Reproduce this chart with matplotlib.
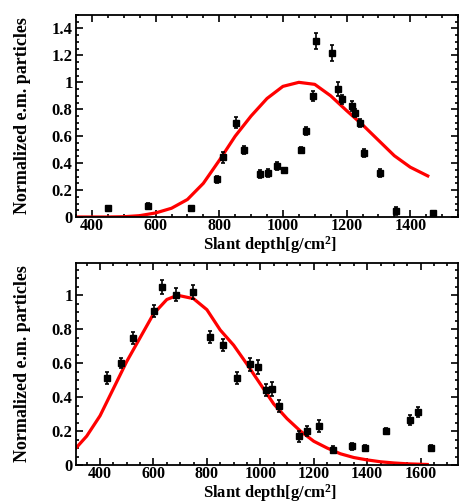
import matplotlib
matplotlib.use("Agg")
import matplotlib.pyplot as plt
from matplotlib.ticker import MultipleLocator, FuncFormatter

# ---- top panel data ----
top_x = [452, 577, 712, 792, 813, 853, 878, 928, 954, 980, 1002, 1058, 1074, 1095,
         1103, 1155, 1173, 1185, 1217, 1225, 1243, 1255, 1304, 1354, 1472]
top_y = [0.065, 0.084, 0.065, 0.28, 0.443, 0.70, 0.50, 0.32, 0.33, 0.38, 0.35, 0.50,
         0.64, 0.90, 1.307, 1.215, 0.95, 0.874, 0.824, 0.77, 0.696, 0.477, 0.33, 0.047, 0.027]
top_err = [0.0, 0.02, 0.0, 0.027, 0.04, 0.04, 0.03, 0.03, 0.03, 0.03, 0.0, 0.02,
           0.03, 0.035, 0.06, 0.06, 0.05, 0.035, 0.035, 0.03, 0.03, 0.03, 0.03, 0.03, 0.0]
top_curve_x = [350, 400, 450, 500, 550, 600, 650, 700, 750, 800, 850, 900, 950, 1000,
               1050, 1100, 1150, 1200, 1250, 1300, 1350, 1400, 1455]
top_curve_y = [0, 0, 0, 0.002, 0.01, 0.03, 0.065, 0.13, 0.25, 0.42, 0.60, 0.75, 0.88,
               0.97, 1.0, 0.985, 0.90, 0.79, 0.685, 0.57, 0.455, 0.37, 0.305]

# ---- bottom panel data ----
bot_x = [427, 477, 522, 602, 633, 683, 749, 811, 861, 913, 961, 992, 1023, 1042, 1070,
         1143, 1173, 1220, 1272, 1342, 1391, 1469, 1561, 1590, 1640]
bot_y = [0.511, 0.599, 0.75, 0.906, 1.049, 1.004, 1.02, 0.756, 0.707, 0.511, 0.593,
         0.579, 0.442, 0.448, 0.35, 0.168, 0.198, 0.231, 0.09, 0.11, 0.10, 0.20, 0.266,
         0.311, 0.10]
bot_err = [0.035, 0.03, 0.035, 0.035, 0.04, 0.04, 0.04, 0.035, 0.035, 0.035, 0.04, 0.04,
           0.035, 0.04, 0.035, 0.035, 0.03, 0.035, 0.02, 0.02, 0.02, 0.02, 0.03, 0.03, 0.02]
bot_curve_x = [310, 350, 400, 450, 500, 550, 600, 650, 690, 750, 800, 850, 900, 950, 1000,
               1050, 1100, 1150, 1200, 1250, 1300, 1350, 1400, 1450, 1500, 1550, 1625]
bot_curve_y = [0.10, 0.17, 0.29, 0.45, 0.61, 0.75, 0.89, 0.975, 1.0, 0.98, 0.915, 0.795,
               0.706, 0.594, 0.477, 0.36, 0.273, 0.20, 0.14, 0.10, 0.066, 0.044, 0.03,
               0.019, 0.012, 0.007, 0.003]

xlabel = "Slant depth[g/cm$^{2}$]"
ylabel = "Normalized e.m. particles"

plt.rcParams['font.family'] = ['Liberation Serif', 'DejaVu Serif']
plt.rcParams['font.weight'] = 'bold'
plt.rcParams['mathtext.fontset'] = 'custom'
plt.rcParams['mathtext.rm'] = 'Liberation Serif:bold'
plt.rcParams['mathtext.it'] = 'Liberation Serif:bold'

W, H = 459, 504
fig = plt.figure(figsize=(W / 100, H / 100), dpi=100)

def px_axes(l, t, r, b):
    return fig.add_axes([l / W, 1 - b / H, (r - l) / W, (b - t) / H])

fmt = FuncFormatter(lambda v, p: "%g" % round(v, 6))

def style(ax, xlim, ylim, axh, label_off):
    ax.set_xlim(*xlim)
    ax.set_ylim(*ylim)
    ax.xaxis.set_major_locator(MultipleLocator(200))
    ax.xaxis.set_minor_locator(MultipleLocator(50))
    ax.yaxis.set_major_locator(MultipleLocator(0.2))
    ax.yaxis.set_minor_locator(MultipleLocator(0.05))
    ax.yaxis.set_major_formatter(fmt)
    ax.tick_params(which='both', direction='in', top=True, right=True, width=1.2,
                   labelsize=11.5, pad=0.5)
    ax.tick_params(axis='y', pad=2.5, labelsize=12)
    ax.tick_params(which='major', length=5)
    ax.tick_params(which='minor', length=2.5)
    for s in ax.spines.values():
        s.set_linewidth(1.3)
    ax.set_xlabel(xlabel, fontsize=12, fontweight='bold', va='bottom', ha='center')
    ax.xaxis.set_label_coords(0.509, -label_off / axh)
    ax.set_ylabel(ylabel, fontsize=13, fontweight='bold', va='center', ha='center')
    ax.yaxis.set_label_coords(-53.0 / 382, 0.5)
    for lab in ax.get_xticklabels() + ax.get_yticklabels():
        lab.set_fontweight('bold')

ax1 = px_axes(76, 15, 458, 217)
ax1.plot(top_curve_x, top_curve_y, color='#ff0000', lw=2.3, zorder=2)
ax1.errorbar(top_x, top_y, yerr=top_err, fmt='s', color='black', ms=4.5, elinewidth=1.2,
             capsize=1.5, capthick=1.2, zorder=3)
style(ax1, (350, 1550), (0, 1.5), 202, 39)

ax2 = px_axes(76, 263, 458, 465)
ax2.plot(bot_curve_x, bot_curve_y, color='#ff0000', lw=2.3, zorder=2)
ax2.errorbar(bot_x, bot_y, yerr=bot_err, fmt='s', color='black', ms=4.5, elinewidth=1.2,
             capsize=1.5, capthick=1.2, zorder=3)
style(ax2, (310, 1740), (0, 1.19), 202, 38.6)

fig.savefig("out.png", dpi=100)
